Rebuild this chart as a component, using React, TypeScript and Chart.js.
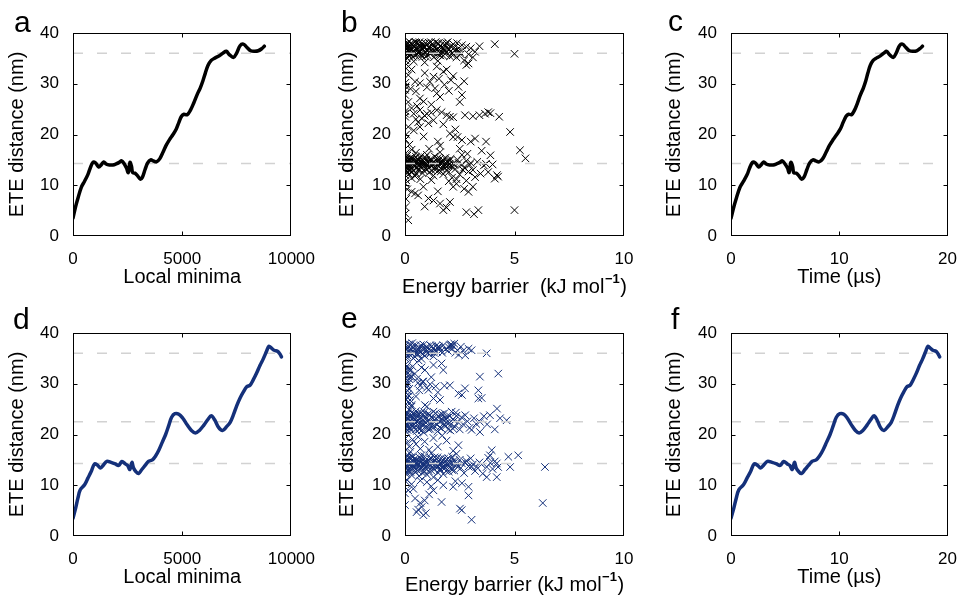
import React, { useEffect, useRef } from 'react';
import { Chart, registerables } from 'chart.js';
Chart.register(...registerables);

// ---------- data ----------
const minimaA = [0,120,230,380,530,680,790,910,1030,1180,1290,1410,1515,1670,1820,1970,2120,2230,2350,2450,2530,2610,2680,2730,2830,2950,3080,3180,3300,3420,3560,3680,3820,3970,4120,4270,4420,4580,4730,4850,4970,5080,5230,5380,5530,5680,5830,5950,6060,6180,6330,6515,6700,6890,7020,7170,7350,7500,7650,7800,7955,8140,8330,8485,8640,8760];
const timeC = [0,0.27,0.5,0.83,1.16,1.49,1.72,1.99,2.24,2.56,2.78,3.03,3.25,3.57,3.89,4.2,4.52,4.74,4.99,5.22,5.37,5.53,5.69,5.79,6.01,6.26,6.51,6.74,7.01,7.27,7.57,7.83,8.13,8.46,8.78,9.11,9.44,9.77,10.1,10.36,10.63,10.86,11.13,11.41,11.68,11.95,12.23,12.45,12.64,12.86,13.13,13.46,13.79,14.15,14.37,14.65,14.99,15.27,15.56,15.84,16.13,16.48,16.86,17.15,17.44,17.68];
const eteABC = [3.5,5.8,7.5,9.6,10.8,12.1,13.4,14.5,14.4,13.6,14.0,14.6,14.2,14.0,14.0,14.2,14.5,14.8,14.2,13.4,12.5,14.5,13.7,12.5,12.4,11.9,11.2,11.6,13.1,14.4,15.0,14.8,14.6,15.2,16.5,17.9,19.0,20.0,21.1,22.4,23.6,24.0,23.9,24.8,26.2,27.8,29.2,30.6,32.1,33.6,34.6,35.1,35.5,36.1,36.4,35.7,35.2,36.1,37.5,37.8,37.2,36.5,36.4,36.5,36.9,37.4];

const minimaD = [0,121,227,333,530,682,833,985,1136,1258,1394,1545,1742,1939,2091,2242,2394,2500,2606,2697,2773,2879,3000,3152,3303,3455,3636,3788,3939,4091,4242,4394,4515,4667,4848,5030,5227,5424,5606,5788,5985,6167,6333,6485,6667,6848,7045,7197,7348,7500,7652,7803,7955,8106,8258,8409,8561,8712,8864,8970,9091,9212,9364,9470,9545];
const timeF = [0,0.26,0.49,0.72,1.15,1.48,1.81,2.14,2.47,2.73,3.03,3.36,3.79,4.21,4.54,4.87,5.2,5.43,5.66,5.86,6.02,6.25,6.51,6.83,7.16,7.48,7.87,8.19,8.51,8.83,9.15,9.47,9.73,10.05,10.42,10.75,11.12,11.49,11.83,12.18,12.55,12.9,13.21,13.48,13.8,14.13,14.51,14.8,15.09,15.38,15.67,15.96,16.25,16.54,16.83,17.12,17.41,17.7,17.99,18.19,18.42,18.64,18.93,19.12,19.27];
const eteDEF = [3.5,5.5,7.5,9.1,10.1,11.4,12.7,14.2,13.9,13.4,14.0,14.7,14.5,14.2,13.9,14.7,14.2,13.9,13.1,14.5,13.4,12.7,12.3,13.1,13.9,14.7,15.0,15.8,17.0,18.5,20.0,21.9,23.4,24.1,24.0,23.2,21.9,20.8,20.3,20.8,21.8,22.9,23.7,22.9,21.4,20.8,21.6,22.4,23.9,25.7,27.2,28.4,29.4,29.7,30.8,32.1,33.6,34.9,36.4,37.4,37.0,36.6,36.4,35.9,35.3];

// [energy barrier (kJ/mol), ETE distance (nm)] — panel b
const barrierEteB: number[][] = [
  [0.02,37.8],[0.05,36.2],[0.08,35.1],[0.1,37.2],[0.12,38.1],[0.15,36.6],[0.18,35.5],[0.2,37.6],[0.25,36.0],[0.28,38.0],[0.3,36.9],[0.35,35.3],[0.38,37.4],[0.42,36.3],[0.45,38.2],[0.5,37.0],[0.55,35.8],[0.58,36.7],[0.62,37.9],[0.65,36.1],[0.7,37.3],[0.75,35.6],[0.78,38.0],[0.82,36.8],[0.85,37.5],[0.9,36.2],[0.95,35.4],[1.0,37.7],[1.02,36.5],[1.08,38.1],[1.1,37.0],[1.15,35.9],[1.2,36.6],[1.25,37.8],[1.28,36.3],[1.32,35.2],[1.38,37.2],[1.42,36.0],[1.48,38.0],[1.52,36.9],[1.55,35.7],[1.6,37.4],[1.65,36.4],[1.7,37.9],[1.75,35.5],[1.8,36.8],[1.85,37.6],[1.9,36.2],[1.95,38.2],[2.0,36.7],[2.05,35.4],[2.1,37.3],[2.15,36.1],[2.2,37.8],[2.3,36.5],[2.35,35.2],[2.45,37.0],[2.5,36.3],[2.6,37.6],[0.03,34.6],[0.07,33.8],[0.4,34.4],[0.9,34.2],[1.5,34.5],[0.0,35.8],[0.0,37.0],[0.01,36.5],[0.22,36.4],[0.48,36.6],[0.68,36.4],[1.12,36.3],[1.35,36.5],[1.58,36.2],[1.78,36.4],
  [0.04,36.9],[0.09,37.6],[0.14,35.9],[0.19,38.3],[0.23,37.1],[0.27,35.7],[0.32,37.8],[0.37,36.2],[0.41,37.3],[0.46,35.6],[0.52,38.1],[0.57,37.2],[0.6,36.0],[0.66,38.2],[0.71,35.9],[0.76,37.0],[0.8,35.3],[0.87,37.2],[0.93,38.0],[0.98,36.6],[1.04,35.6],[1.13,37.4],[1.18,38.2],[1.23,36.2],[1.3,37.5],[1.4,38.2],[1.45,36.7],[1.53,37.9],[1.62,35.6],[1.68,37.2],[1.73,36.9],[1.83,35.9],[1.88,38.0],[1.98,37.0],[2.08,36.4],[2.18,35.6],[2.25,37.1],[2.38,38.0],[2.42,36.4],[2.55,35.8],
  [2.8,37.3],[3.0,37.0],[3.2,36.3],[3.4,37.4],[4.1,37.8],[5.0,35.9],[3.1,35.2],[2.9,35.8],[2.7,34.6],
  [2.8,33.7],[2.9,34.0],[1.75,32.4],[1.45,33.4],[1.3,31.4],[1.14,30.4],[2.1,30.7],[0.46,30.4],[0.68,30.1],[0.15,31.7],[0.0,28.8],[1.37,29.1],[1.45,28.1],[1.6,27.4],[2.44,29.4],[2.6,27.8],[2.5,26.4],[0.68,27.1],[0.15,26.4],[0.02,30.2],[0.03,29.5],[0.01,27.8],[0.3,32.8],[0.9,32.1],[1.0,29.3],[1.55,31.0],[1.9,32.8],[2.2,31.5],[0.5,28.5],[0.85,26.5],[1.2,25.9],[1.8,29.8],[2.0,28.6],[2.7,30.5],[0.25,29.0],[0.06,33.0],
  [0.0,24.1],[0.02,24.6],[0.01,23.5],[0.4,24.1],[0.68,24.8],[0.76,23.2],[1.0,24.1],[1.45,24.8],[1.67,24.4],[1.9,23.8],[2.05,23.5],[2.2,23.4],[2.74,23.8],[3.1,23.6],[3.4,23.8],[3.65,24.1],[3.8,24.4],[3.9,24.2],[4.3,23.5],[0.15,21.5],[0.4,20.8],[0.68,21.5],[1.07,22.2],[2.05,20.2],[2.2,19.5],[2.4,19.5],[2.6,18.9],[3.0,18.6],[3.2,19.2],[3.7,18.6],[4.8,20.5],[1.5,18.6],[5.25,16.9],[5.5,15.3],[0.5,23.0],[0.6,22.4],[0.9,23.7],[1.2,24.3],[0.3,25.2],[0.55,25.6],[1.3,22.8],[1.75,22.0],[2.3,21.0],[0.05,20.0],[0.02,19.0],[0.2,18.0],[0.85,19.6],[1.1,17.2],[0.3,17.0],[1.6,17.8],[2.5,17.2],[3.5,16.8],[2.85,16.2],
  [0.0,14.5],[0.02,13.6],[0.04,15.2],[0.06,12.8],[0.08,14.0],[0.1,15.8],[0.12,13.2],[0.15,14.8],[0.18,12.2],[0.2,14.3],[0.24,15.4],[0.27,13.7],[0.3,14.6],[0.33,12.6],[0.36,15.0],[0.4,13.9],[0.43,14.4],[0.46,11.8],[0.5,15.6],[0.53,13.4],[0.57,14.7],[0.6,12.9],[0.64,14.1],[0.68,15.3],[0.72,13.6],[0.75,14.5],[0.8,12.4],[0.84,14.9],[0.88,13.8],[0.92,15.5],[0.96,14.2],[1.0,13.1],[1.05,14.6],[1.1,12.5],[1.15,15.1],[1.2,13.9],[1.25,14.4],[1.3,11.9],[1.35,15.7],[1.4,13.5],[1.45,14.8],[1.5,12.8],[1.55,14.2],[1.6,15.2],[1.65,13.3],[1.7,14.6],[1.75,12.2],[1.8,14.0],[1.85,15.4],[1.9,13.7],[1.95,14.5],[2.0,12.6],[2.05,14.9],[2.1,13.9],[2.15,11.5],[2.2,14.3],[2.3,13.2],[2.4,15.0],[2.5,12.1],[2.6,14.1],[2.7,13.5],[2.8,14.8],[2.9,12.7],[3.0,14.4],[3.1,13.0],[3.2,11.6],[3.3,14.6],[3.45,12.3],[3.6,13.9],[3.8,12.6],[3.9,15.9],[4.0,14.1],[4.1,11.3],[4.2,12.0],[4.25,11.7],[3.7,14.2],[2.35,11.2],[1.2,11.0],[0.7,11.2],[0.3,11.4],[0.05,11.0],[0.02,10.3],[0.01,12.0],[0.03,16.3],[0.5,16.4],[1.0,16.0],[1.6,16.5],[2.6,16.0],[2.0,10.8],[2.8,10.9],
  [0.01,14.9],[0.03,13.1],[0.05,15.6],[0.07,14.3],[0.09,12.5],[0.11,14.7],[0.14,13.5],[0.17,15.1],[0.19,14.0],[0.22,12.9],[0.26,14.9],[0.29,13.4],[0.32,15.4],[0.35,14.2],[0.38,12.9],[0.42,15.2],[0.45,13.8],[0.48,14.8],[0.52,12.3],[0.55,14.2],[0.59,15.0],[0.63,13.2],[0.66,14.6],[0.7,14.0],[0.74,15.8],[0.78,13.9],[0.82,14.4],[0.86,12.9],[0.9,14.3],[0.94,13.3],[0.98,15.0],[1.03,14.1],[1.08,13.4],[1.13,14.3],[1.18,14.8],[1.23,12.9],[1.28,14.0],[1.33,14.6],[1.38,13.0],[1.43,14.1],[1.48,15.3],[1.53,13.8],[1.58,14.5],[1.63,12.7],[1.68,14.3],[1.73,15.0],[1.78,13.6],[1.83,14.3],[1.88,12.9],[1.93,14.8],[1.98,13.9],[2.03,14.2],[2.08,15.2],[2.13,13.6],[2.25,14.0],[2.45,14.4],[2.65,13.0],[2.95,14.0],
  [3.1,9.7],[2.7,9.3],[2.9,8.7],[2.35,10.3],[2.2,9.7],[0.84,9.7],[0.46,8.4],[0.3,8.7],[1.07,7.4],[1.3,7.0],[1.6,6.4],[1.75,5.1],[2.05,6.7],[2.8,4.7],[3.35,5.1],[3.15,4.3],[5.0,5.1],[0.15,3.1],[0.02,5.7],[0.02,4.4],[0.05,7.3],[0.1,9.2],[0.6,8.0],[1.5,8.8],[1.9,5.6],[0.9,5.8]
];

// panel e
const barrierEteE: number[][] = [
  [0.02,37.5],[0.05,36.0],[0.08,35.2],[0.12,37.0],[0.16,36.4],[0.2,37.8],[0.25,35.6],[0.3,36.8],[0.35,37.4],[0.4,36.1],[0.45,35.3],[0.5,37.6],[0.55,36.5],[0.6,35.8],[0.65,37.1],[0.7,36.2],[0.75,34.9],[0.8,36.9],[0.85,37.7],[0.9,35.5],[0.95,36.6],[1.0,37.3],[1.05,36.0],[1.1,36.8],[1.15,37.6],[1.2,36.3],[1.28,37.0],[1.35,36.6],[1.42,37.5],[1.5,36.9],[1.55,37.3],[1.65,36.5],[1.75,37.6],[1.85,36.8],[2.0,37.2],[2.1,37.8],[2.13,37.6],[2.15,36.9],[2.2,37.4],[2.3,36.1],[2.45,35.7],[2.55,37.3],[2.65,36.5],[2.75,35.6],[2.9,36.9],[3.04,36.6],[3.73,36.0],[1.52,37.3],[0.38,35.0],[0.62,34.6],[1.3,35.4],[0.0,36.4],[0.01,35.0],[0.03,37.9],
  [0.04,36.8],[0.1,35.6],[0.18,37.2],[0.28,36.0],[0.33,38.0],[0.43,36.8],[0.53,35.9],[0.63,36.6],[0.72,37.6],[0.82,35.9],[0.92,37.0],[1.02,36.5],[1.12,35.8],[1.22,37.4],[1.33,36.1],[1.45,36.3],[1.6,37.0],[1.7,36.1],[1.95,36.5],[2.05,37.6],[2.25,37.9],[2.4,36.6],
  [0.02,33.8],[0.05,33.0],[0.1,32.3],[0.15,31.5],[0.2,30.9],[0.25,32.6],[0.3,31.4],[0.02,30.2],[0.08,29.4],[0.12,28.6],[0.18,27.6],[0.04,26.8],[0.22,26.2],[0.3,25.5],[0.35,33.4],[0.45,32.0],[0.55,31.0],[0.6,30.2],[0.7,29.6],[0.8,30.4],[0.84,30.4],[0.91,32.7],[1.0,29.2],[1.07,28.8],[1.15,29.9],[1.3,33.7],[1.3,27.1],[1.4,29.5],[1.5,28.3],[1.6,26.8],[1.67,34.0],[1.75,32.7],[0.91,25.8],[0.23,31.4],[0.15,30.1],[0.23,26.8],[0.1,27.3],[0.5,27.5],[0.65,28.7],[2.05,29.7],[2.44,28.1],[2.74,29.1],[3.35,28.7],[3.35,27.1],[3.5,27.2],[3.42,31.4],[4.26,32.0],[2.6,27.8],[1.8,29.6],[1.2,31.3],[0.75,33.2],
  [0.01,32.6],[0.03,31.0],[0.06,29.9],[0.09,33.5],[0.13,27.9],[0.16,32.9],[0.19,29.0],[0.05,26.0],[0.02,28.3],
  [0.0,22.5],[0.02,21.2],[0.04,23.6],[0.06,20.5],[0.08,24.4],[0.1,22.0],[0.13,23.1],[0.16,21.5],[0.2,24.8],[0.23,22.7],[0.26,20.9],[0.3,23.5],[0.33,22.1],[0.36,24.1],[0.4,21.3],[0.43,23.0],[0.47,22.4],[0.5,24.6],[0.54,20.7],[0.58,23.8],[0.62,22.2],[0.66,21.0],[0.7,23.3],[0.74,24.3],[0.78,21.8],[0.82,22.9],[0.86,20.4],[0.9,23.7],[0.95,22.3],[1.0,21.4],[1.05,24.0],[1.1,22.8],[1.15,21.1],[1.2,23.4],[1.25,22.0],[1.3,24.5],[1.36,21.6],[1.42,23.1],[1.48,20.6],[1.55,22.6],[1.6,23.9],[1.66,21.2],[1.72,22.9],[1.8,24.2],[1.86,21.7],[1.93,23.3],[2.0,22.2],[2.07,20.8],[2.13,24.5],[2.2,23.0],[2.27,21.5],[2.35,23.7],[2.42,22.4],[2.5,21.0],[2.58,23.4],[2.65,22.0],[2.75,23.8],[2.85,22.6],[2.95,21.3],[3.04,20.9],[3.15,23.2],[3.25,22.1],[3.42,22.5],[3.42,20.5],[3.6,23.6],[3.75,22.0],[3.88,23.8],[4.1,21.0],[4.2,25.1],[4.34,23.2],[4.64,22.8],[1.0,25.5],[0.3,25.8],[1.7,19.8],[0.6,19.5],
  [0.01,23.0],[0.03,22.0],[0.05,24.0],[0.07,21.6],[0.09,23.2],[0.11,20.9],[0.14,24.2],[0.17,22.4],[0.21,23.5],[0.24,21.3],[0.28,22.6],[0.31,24.4],[0.35,21.7],[0.38,23.4],[0.42,22.0],[0.45,24.0],[0.49,21.0],[0.52,23.1],[0.56,22.5],[0.6,24.2],[0.64,21.6],[0.68,23.0],[0.72,22.3],[0.76,20.8],[0.8,23.8],[0.84,22.1],[0.88,24.4],[0.93,21.5],[0.98,23.1],[1.03,22.6],[1.08,21.0],[1.13,23.9],[1.18,22.2],[1.23,21.4],[1.28,23.2],[1.34,22.4],[1.4,24.2],[1.46,21.9],[1.52,23.6],[1.58,21.4],[1.64,22.8],[1.7,24.0],[1.78,21.9],[1.84,23.2],[1.9,22.3],[1.97,21.0],[2.04,23.6],[2.1,22.0],[2.18,21.2],[2.25,22.7],[2.32,24.3],
  [0.02,19.2],[0.1,18.4],[0.2,17.6],[0.35,19.0],[0.5,18.1],[0.7,17.2],[0.9,18.6],[1.1,17.0],[1.3,19.3],[1.5,17.6],[2.44,17.9],[3.96,16.9],[0.05,17.0],[0.25,16.6],[1.9,18.8],[2.2,16.8],
  [0.0,14.2],[0.02,13.0],[0.04,15.3],[0.06,12.2],[0.08,14.8],[0.1,13.6],[0.13,15.9],[0.16,12.8],[0.2,14.4],[0.23,13.3],[0.26,15.1],[0.3,12.0],[0.33,14.0],[0.36,15.6],[0.4,13.5],[0.44,14.6],[0.48,12.6],[0.52,15.0],[0.56,13.8],[0.6,14.3],[0.64,11.8],[0.68,15.4],[0.72,13.1],[0.76,14.7],[0.8,12.4],[0.84,14.1],[0.88,15.7],[0.92,13.4],[0.96,14.5],[1.0,12.1],[1.05,14.9],[1.1,13.7],[1.15,15.2],[1.2,12.9],[1.25,14.2],[1.3,11.6],[1.35,15.5],[1.4,13.6],[1.45,14.4],[1.5,12.5],[1.55,14.8],[1.6,13.2],[1.65,15.3],[1.7,14.0],[1.75,12.2],[1.8,14.6],[1.85,13.5],[1.9,15.1],[1.95,14.1],[2.0,12.7],[2.05,14.5],[2.1,13.3],[2.15,15.6],[2.2,14.2],[2.25,12.9],[2.3,14.7],[2.4,13.6],[2.5,15.0],[2.6,14.3],[2.7,12.4],[2.8,14.8],[2.9,13.7],[3.0,15.3],[3.1,14.1],[3.2,12.8],[3.27,13.6],[3.4,14.5],[3.55,12.3],[3.73,11.6],[3.8,15.4],[3.9,14.4],[4.0,13.2],[4.1,14.7],[4.19,14.3],[4.25,13.6],[4.19,11.6],[4.72,15.6],[4.8,13.6],[5.17,15.9],[6.39,13.6],[3.88,15.9],[3.73,13.6],[2.35,16.2],[1.2,16.3],
  [0.01,13.6],[0.03,14.8],[0.05,12.6],[0.07,15.1],[0.09,13.9],[0.12,14.5],[0.15,13.0],[0.18,15.4],[0.21,14.1],[0.25,12.6],[0.28,14.3],[0.31,15.6],[0.35,13.3],[0.38,14.8],[0.42,14.0],[0.46,15.3],[0.5,13.2],[0.54,14.4],[0.58,12.9],[0.62,14.8],[0.66,13.7],[0.7,14.5],[0.74,15.9],[0.78,13.6],[0.82,15.0],[0.86,14.3],[0.9,12.7],[0.94,14.9],[0.98,13.8],[1.03,14.4],[1.08,12.8],[1.13,14.2],[1.18,15.4],[1.23,13.6],[1.28,14.6],[1.33,13.1],[1.38,14.9],[1.43,14.0],[1.48,15.5],[1.53,13.7],[1.58,14.1],[1.63,12.9],[1.68,14.7],[1.73,13.5],[1.78,15.2],[1.83,14.0],[1.88,12.8],[1.93,14.4],[1.98,15.3],[2.03,13.5],[2.08,14.2],[2.15,13.0],[2.22,14.8],[2.35,14.1],[2.55,13.4],[2.75,14.5],[3.05,13.7],[3.5,14.1],
  [0.02,10.8],[0.0,8.4],[0.0,6.1],[0.1,11.0],[0.38,9.3],[0.46,7.4],[0.53,4.7],[0.76,5.7],[0.84,4.1],[0.7,6.5],[0.6,5.2],[0.9,7.0],[1.0,10.6],[1.3,9.0],[1.2,9.8],[1.1,8.2],[1.75,10.0],[1.67,6.7],[2.2,9.7],[2.3,10.8],[2.51,5.4],[2.59,5.1],[2.9,9.7],[2.9,8.0],[2.6,10.4],[3.04,3.2],[6.29,6.5],[0.3,10.2],[0.15,9.0],[0.7,10.9],[1.5,11.0],[0.95,4.5]
];

const refLinesTop = [36, 14.3];
const refLinesBottom = [36, 22.5, 14.3];
const yTicks = [0, 10, 20, 30, 40];
const minimaTicks = [0, 5000, 10000];
const barrierTicks = [0, 5, 10];
const timeTicks = [0, 10, 20];

const FONT = '"Liberation Sans", Arial, Helvetica, sans-serif';
const BLACK = '#000000';
const NAVY = '#14307a';
const DASH_COLOR = '#d2d2d2';

type Panel = {
  letter: string; letterX: number; letterY: number;
  left: number; top: number; w: number; h: number;
  yAxisW: number; padTop: number; padRight: number; xAxisH: number;
  yTitlePad: number; xTitlePad: number;
  kind: 'line' | 'scatter';
  xs?: number[]; ys?: number[]; pts?: number[][];
  color: string; xMax: number; xTicks: number[]; xTitle: string;
  customTitle?: { main: string; cy: number };
  refs: number[];
};

const panels: Panel[] = [
  { letter: 'a', letterX: 14, letterY: 32, left: 0, top: 0, w: 320, h: 300, yAxisW: 73, padTop: 33, padRight: 27, xAxisH: 64, yTitlePad: 5, xTitlePad: 11, kind: 'line', xs: minimaA, ys: eteABC, color: BLACK, xMax: 10000, xTicks: minimaTicks, xTitle: 'Local minima', refs: refLinesTop },
  { letter: 'b', letterX: 21, letterY: 32, left: 320, top: 0, w: 320, h: 300, yAxisW: 85, padTop: 33, padRight: 16, xAxisH: 64, yTitlePad: 15, xTitlePad: 11, kind: 'scatter', pts: barrierEteB, color: BLACK, xMax: 10, xTicks: barrierTicks, xTitle: '', customTitle: { main: 'Energy barrier  (kJ mol', cy: 287 }, refs: refLinesTop },
  { letter: 'c', letterX: 28, letterY: 31, left: 640, top: 0, w: 322, h: 300, yAxisW: 91, padTop: 33, padRight: 13, xAxisH: 64, yTitlePad: 22, xTitlePad: 11, kind: 'line', xs: timeC, ys: eteABC, color: BLACK, xMax: 20, xTicks: timeTicks, xTitle: 'Time (\u00b5s)', refs: refLinesTop },
  { letter: 'd', letterX: 13, letterY: 29, left: 0, top: 300, w: 320, h: 295, yAxisW: 73, padTop: 33, padRight: 27, xAxisH: 59, yTitlePad: 5, xTitlePad: 6, kind: 'line', xs: minimaD, ys: eteDEF, color: NAVY, xMax: 10000, xTicks: minimaTicks, xTitle: 'Local minima', refs: refLinesBottom },
  { letter: 'e', letterX: 21, letterY: 28, left: 320, top: 300, w: 320, h: 295, yAxisW: 85, padTop: 33, padRight: 16, xAxisH: 59, yTitlePad: 15, xTitlePad: 6, kind: 'scatter', pts: barrierEteE, color: NAVY, xMax: 10, xTicks: barrierTicks, xTitle: '', customTitle: { main: 'Energy barrier (kJ mol', cy: 285 }, refs: refLinesBottom },
  { letter: 'f', letterX: 31, letterY: 29, left: 640, top: 300, w: 322, h: 295, yAxisW: 91, padTop: 33, padRight: 13, xAxisH: 59, yTitlePad: 22, xTitlePad: 6, kind: 'line', xs: timeF, ys: eteDEF, color: NAVY, xMax: 20, xTicks: timeTicks, xTitle: 'Time (\u00b5s)', refs: refLinesBottom },
];

function PanelChart({ p }: { p: Panel }) {
  const ref = useRef<HTMLCanvasElement | null>(null);
  useEffect(() => {
    if (!ref.current) return;
    const datasets: any[] = [];
    p.refs.forEach((v) => {
      datasets.push({
        data: [{ x: 0, y: v }, { x: p.xMax, y: v }],
        showLine: true, borderColor: DASH_COLOR, borderWidth: 1.5, borderDash: [10, 14],
        pointRadius: 0, order: p.kind === 'scatter' ? 0 : 2,
      });
    });
    if (p.kind === 'line') {
      datasets.push({
        data: (p.xs as number[]).map((x, i) => ({ x, y: (p.ys as number[])[i] })),
        showLine: true, borderColor: p.color, borderWidth: 3.5, pointRadius: 0,
        tension: 0.35, borderCapStyle: 'round', borderJoinStyle: 'round', order: 1,
      });
    } else {
      datasets.push({
        data: (p.pts as number[][]).map((q) => ({ x: q[0], y: q[1] })),
        showLine: false, pointStyle: 'crossRot', pointRadius: 5.3, pointBorderWidth: 1,
        pointBorderColor: p.color, pointBackgroundColor: p.color, order: 1,
      });
    }

    const decor = {
      id: 'decor' + p.letter,
      afterDraw(chart: any) {
        const ctx = chart.ctx;
        const { left, right, top, bottom } = chart.chartArea;
        const xs = chart.scales.x, ys = chart.scales.y;
        ctx.save();
        ctx.strokeStyle = '#000';
        ctx.lineWidth = 1;
        const L = Math.round(left) + 0.5, R = Math.round(right) - 0.5;
        const T = Math.round(top) + 0.5, B = Math.round(bottom) - 0.5;
        ctx.strokeRect(L, T, R - L, B - T);
        ctx.beginPath();
        const tl = 4;
        p.xTicks.forEach((v, i) => {
          if (i === 0 || i === p.xTicks.length - 1) return;
          const px = Math.round(xs.getPixelForValue(v)) + 0.5;
          ctx.moveTo(px, B); ctx.lineTo(px, B - tl);
          ctx.moveTo(px, T); ctx.lineTo(px, T + tl);
        });
        yTicks.forEach((v, i) => {
          if (i === 0 || i === yTicks.length - 1) return;
          const py = Math.round(ys.getPixelForValue(v)) + 0.5;
          ctx.moveTo(L, py); ctx.lineTo(L + tl, py);
          ctx.moveTo(R, py); ctx.lineTo(R - tl, py);
        });
        ctx.stroke();
        ctx.fillStyle = '#000';
        ctx.textBaseline = 'alphabetic';
        ctx.textAlign = 'left';
        ctx.font = '30px ' + FONT;
        ctx.fillText(p.letter, p.letterX, p.letterY);
        if (p.customTitle) {
          const main = p.customTitle.main;
          const sup = '\u22121';
          const close = ')';
          ctx.font = '20px ' + FONT;
          const w1 = ctx.measureText(main).width;
          const w3 = ctx.measureText(close).width;
          ctx.font = 'bold 13px ' + FONT;
          const w2 = ctx.measureText(sup).width;
          const total = w1 + w2 + w3 + 1;
          const cx = (left + right) / 2;
          const x0 = cx - total / 2;
          const cy = p.customTitle.cy;
          ctx.textBaseline = 'middle';
          ctx.font = '20px ' + FONT;
          ctx.fillText(main, x0, cy);
          ctx.font = 'bold 13px ' + FONT;
          ctx.fillText(sup, x0 + w1 + 0.5, cy - 8);
          ctx.font = '20px ' + FONT;
          ctx.fillText(close, x0 + w1 + w2 + 1, cy);
        }
        ctx.restore();
      },
    };

    const chart = new Chart(ref.current, {
      type: 'scatter',
      data: { datasets },
      plugins: [decor],
      options: {
        animation: false,
        responsive: false,
        maintainAspectRatio: false,
        events: [],
        layout: { padding: { left: 0, top: p.padTop, right: p.padRight, bottom: 0 } },
        plugins: { legend: { display: false }, tooltip: { enabled: false }, title: { display: false } },
        scales: {
          x: {
            type: 'linear', min: 0, max: p.xMax, position: 'bottom',
            afterBuildTicks: (s: any) => { s.ticks = p.xTicks.map((v) => ({ value: v })); },
            afterFit: (s: any) => { s.height = p.xAxisH; },
            grid: { display: false }, border: { display: false },
            ticks: { autoSkip: false, maxRotation: 0, minRotation: 0, padding: 5, color: '#000', font: { family: FONT, size: 17 }, callback: (v: any) => String(v) },
            title: { display: !p.customTitle, text: p.xTitle, color: '#000', font: { family: FONT, size: 20 }, padding: { top: 0, bottom: p.xTitlePad } },
          },
          y: {
            type: 'linear', min: 0, max: 40, position: 'left',
            afterBuildTicks: (s: any) => { s.ticks = yTicks.map((v) => ({ value: v })); },
            afterFit: (s: any) => { s.width = p.yAxisW; },
            grid: { display: false }, border: { display: false },
            ticks: { autoSkip: false, padding: 6, color: '#000', font: { family: FONT, size: 17 }, callback: (v: any) => String(v) },
            title: { display: true, text: 'ETE distance (nm)', color: '#000', font: { family: FONT, size: 20 }, padding: { top: p.yTitlePad, bottom: 0 } },
          },
        },
      } as any,
    });
    return () => chart.destroy();
  }, [p]);
  return (
    <canvas
      ref={ref}
      width={p.w}
      height={p.h}
      style={{ position: 'absolute', left: p.left, top: p.top, width: p.w, height: p.h }}
    />
  );
}

export default function App() {
  return (
    <div style={{ position: 'absolute', left: 0, top: 0, width: 962, height: 595, background: '#ffffff', overflow: 'hidden' }}>
      {panels.map((p) => <PanelChart key={p.letter} p={p} />)}
    </div>
  );
}
